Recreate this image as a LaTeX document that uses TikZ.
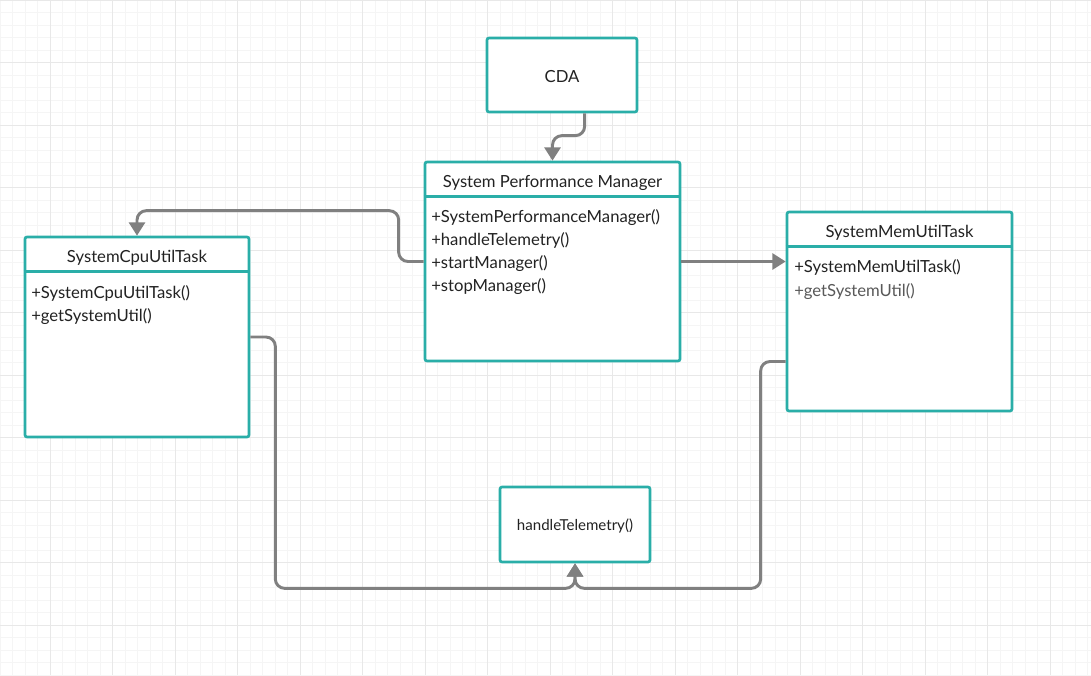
\documentclass[tikz,border=0pt]{standalone}
\usepackage{fontspec}
\setmainfont{Lato}
\usetikzlibrary{arrows.meta}
\definecolor{boxteal}{RGB}{42,174,168}
\definecolor{wire}{RGB}{128,128,128}
\definecolor{ink}{RGB}{34,34,34}
\definecolor{minorgrid}{RGB}{245,245,245}
\definecolor{majorgrid}{RGB}{232,232,232}

\begin{document}
\begin{tikzpicture}[x=0.75pt,y=-0.75pt,
  classbox/.style={draw=boxteal, line width=2pt, fill=white, rounded corners=1.5pt, inner sep=0pt},
  divider/.style={draw=boxteal, line width=2pt},
  title/.style={font=\fontsize{12.5}{15}\selectfont, text=ink},
  method/.style={anchor=west, font=\fontsize{12.5}{15}\selectfont, text=ink, inner sep=0pt},
  conn/.style={draw=wire, line width=2.2pt, rounded corners=7pt, -{Triangle[width=12pt,length=10pt]}}]
\useasboundingbox (0,0) rectangle (1091,675);
\fill[white] (0,0) rectangle (1091,675);

% background grid
\foreach \x in {0,12.5,...,1091} \draw[minorgrid, line width=0.5pt] (\x,0) -- (\x,675);
\foreach \y in {0,12.5,...,675} \draw[minorgrid, line width=0.5pt] (0,\y) -- (1091,\y);
\foreach \x in {50,112.5,...,1091} \draw[majorgrid, line width=0.6pt] (\x,0) -- (\x,675);
\foreach \y in {0,62.5,...,675} \draw[majorgrid, line width=0.6pt] (0,\y) -- (1091,\y);

% boxes
\node[classbox, minimum width=112.5pt, minimum height=55.5pt] (cda) at (562,75) {};
\node[title] at (562,76.5) {CDA};

\node[classbox, minimum width=191.25pt, minimum height=149.25pt] (spm) at (552.5,261.5) {};
\draw[divider] ([yshift=-27pt]spm.north west) -- ([yshift=-27pt]spm.north east);
\node[title] at (552.5,182.5) {System Performance Manager};
\node[method] at (431,217.5) {+SystemPerformanceManager()};
\node[method] at (431,240.5) {+handleTelemetry()};
\node[method] at (431,263.5) {+startManager()};
\node[method] at (431,286.5) {+stopManager()};

\node[classbox, minimum width=168pt, minimum height=150pt] (cpu) at (137,337) {};
\draw[divider] ([yshift=-27pt]cpu.north west) -- ([yshift=-27pt]cpu.north east);
\node[title] at (137,257.5) {SystemCpuUtilTask};
\node[method] at (31,293.5) {+SystemCpuUtilTask()};
\node[method] at (31,316.5) {+getSystemUtil()};

\node[classbox, minimum width=168.75pt, minimum height=149.25pt] (mem) at (899.5,311.5) {};
\draw[divider] ([yshift=-27pt]mem.north west) -- ([yshift=-27pt]mem.north east);
\node[title] at (899.5,232.5) {SystemMemUtilTask};
\node[method] at (794,267.5) {+SystemMemUtilTask()};
\node[method, text=ink!75] at (794,291.5) {+getSystemUtil()};

\node[classbox, minimum width=112.5pt, minimum height=56.25pt] (tele) at (575,524.5) {};
\node[title, font=\fontsize{11.3}{13}\selectfont] at (575,526) {handleTelemetry()};

% connectors
\draw[conn] ([xshift=17pt]cda.south) |- ([yshift=18.75pt]spm.north) -- (spm.north);
\draw[conn] (spm.west) -- ++(-25,0) |- ([yshift=18.75pt]cpu.north) -- (cpu.north);
\draw[conn] (spm.east) -- (spm.east -| mem.west);
\draw[conn] (cpu.east) -- ++(25,0) |- ([yshift=-18.75pt]tele.south) -- (tele.south);
\draw[conn] ([yshift=-37.5pt]mem.west) -- ++(-25,0) |- ([yshift=-18.75pt]tele.south) -- (tele.south);
\end{tikzpicture}
\end{document}
